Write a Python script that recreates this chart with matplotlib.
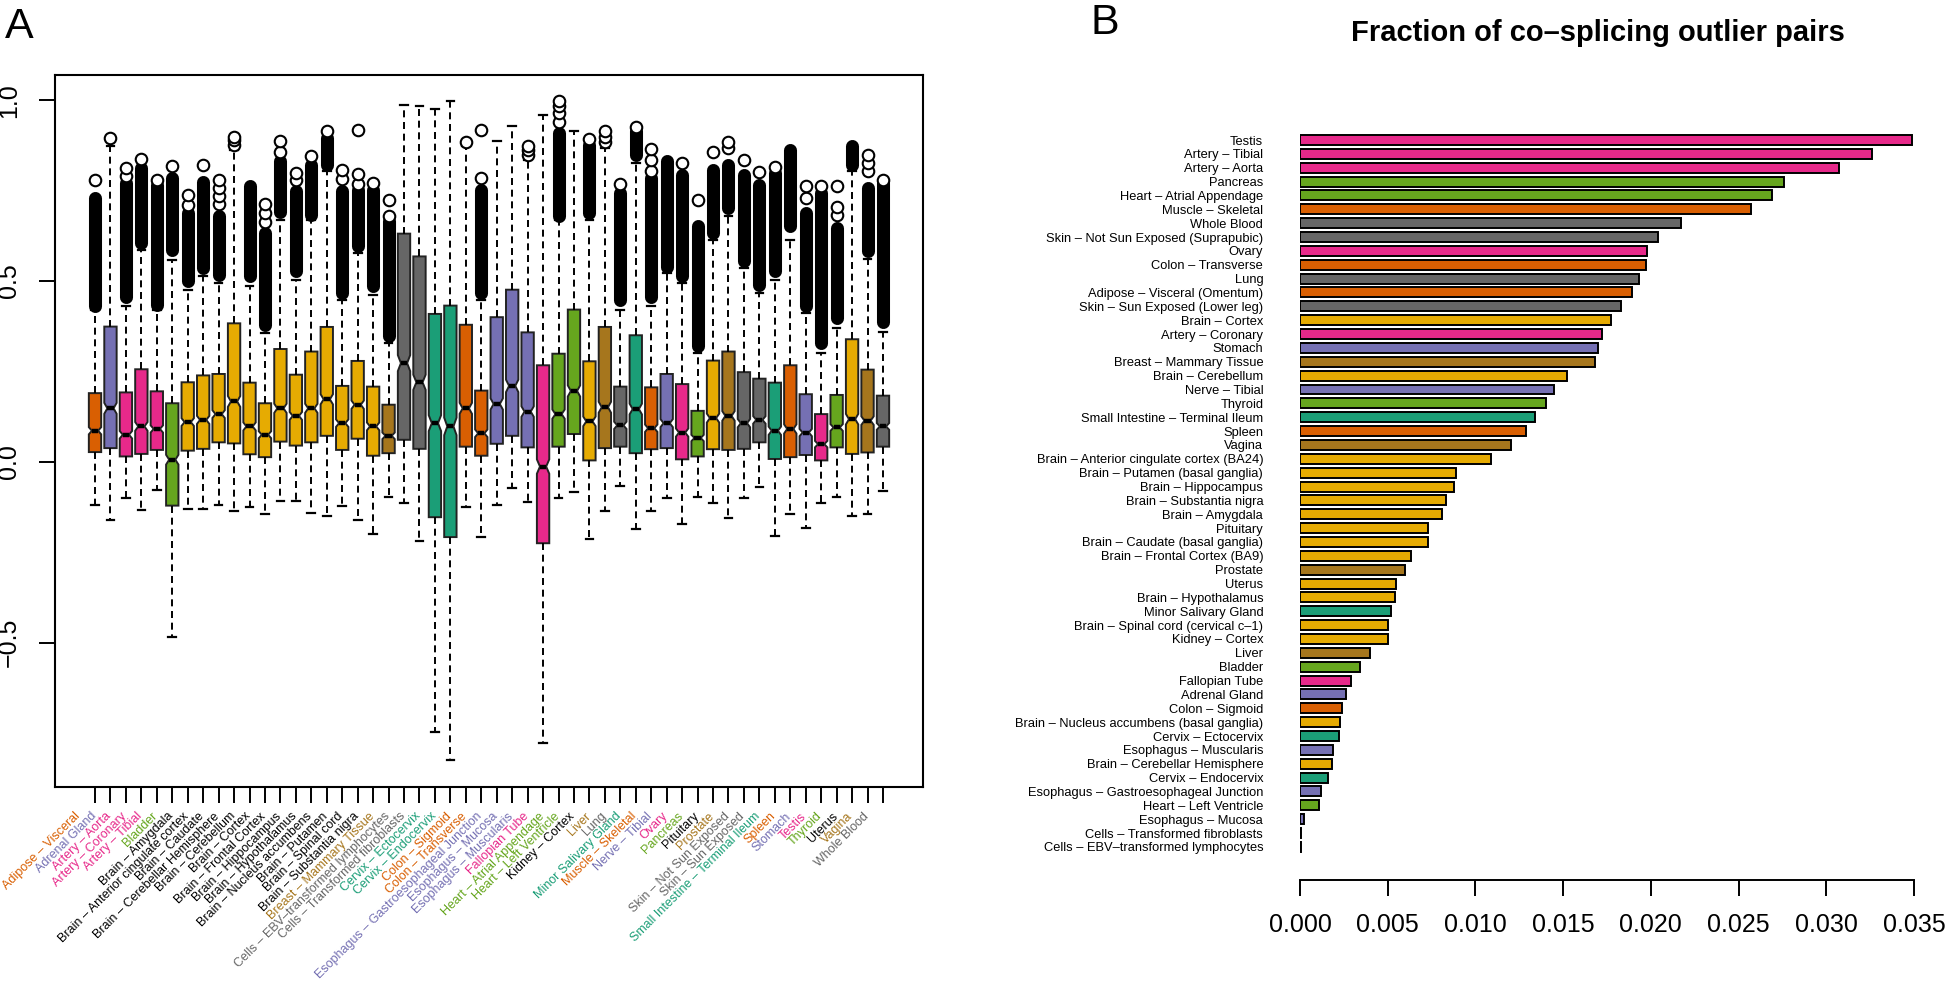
import numpy as np
import matplotlib
matplotlib.use("Agg")
from matplotlib import pyplot as plt

plt.rcParams['font.family'] = ['Liberation Sans', 'DejaVu Sans']

DARK2 = {
    'teal': '#1B9E77', 'orange': '#D95F02', 'purple': '#7570B3', 'pink': '#E7298A',
    'green': '#66A61E', 'yellow': '#E6AB02', 'brown': '#A6761D', 'gray': '#666666',
}

# panel A: one box per tissue (alphabetical)
tissues = [
    "Adipose – Visceral", "Adrenal Gland", "Artery – Aorta", "Artery – Coronary", "Artery – Tibial",
    "Bladder", "Brain – Amygdala", "Brain – Anterior cingulate cortex", "Brain – Caudate",
    "Brain – Cerebellar Hemisphere", "Brain – Cerebellum", "Brain – Cortex", "Brain – Frontal Cortex",
    "Brain – Hippocampus", "Brain – Hypothalamus", "Brain – Nucleus accumbens", "Brain – Putamen",
    "Brain – Spinal cord", "Brain – Substantia nigra", "Breast – Mammary Tissue",
    "Cells – EBV–transformed lymphocytes", "Cells – Transformed fibroblasts", "Cervix – Ectocervix",
    "Cervix – Endocervix", "Colon – Sigmoid", "Colon – Transverse",
    "Esophagus – Gastroesophageal Junction", "Esophagus – Mucosa", "Esophagus – Muscularis",
    "Fallopian Tube", "Heart – Atrial Appendage", "Heart – Left Ventricle", "Kidney – Cortex", "Liver",
    "Lung", "Minor Salivary Gland", "Muscle – Skeletal", "Nerve – Tibial", "Ovary", "Pancreas",
    "Pituitary", "Prostate", "Skin – Not Sun Exposed", "Skin – Sun Exposed",
    "Small Intestine – Terminal Ileum", "Spleen", "Stomach", "Testis", "Thyroid", "Uterus", "Vagina",
    "Whole Blood",
]
tissue_groups = (
    ['orange', 'purple', 'pink', 'pink', 'pink', 'green'] + ['yellow'] * 13 +
    ['brown', 'gray', 'gray', 'teal', 'teal', 'orange', 'orange', 'purple', 'purple', 'purple',
     'pink', 'green', 'green', 'yellow', 'brown', 'gray', 'teal', 'orange', 'purple', 'pink', 'green',
     'yellow', 'brown', 'gray', 'gray', 'teal', 'orange', 'purple', 'pink', 'green', 'yellow', 'brown',
     'gray']
)

q1 = [0.027, 0.038, 0.015, 0.022, 0.033, -0.121, 0.031, 0.036, 0.054, 0.051, 0.021, 0.013, 0.056,
      0.045, 0.054, 0.072, 0.033, 0.064, 0.017, 0.024, 0.061, 0.036, -0.153, -0.208, 0.042, 0.017,
      0.050, 0.072, 0.040, -0.225, 0.042, 0.077, 0.004, 0.038, 0.042, 0.024, 0.035, 0.038, 0.007,
      0.015, 0.035, 0.033, 0.036, 0.054, 0.008, 0.013, 0.019, 0.004, 0.040, 0.022, 0.026, 0.042]
med = [0.086, 0.148, 0.075, 0.098, 0.091, 0.006, 0.110, 0.116, 0.132, 0.167, 0.098, 0.075, 0.148,
       0.127, 0.148, 0.173, 0.107, 0.158, 0.098, 0.072, 0.273, 0.220, 0.107, 0.098, 0.148, 0.079,
       0.160, 0.210, 0.139, -0.013, 0.132, 0.196, 0.112, 0.151, 0.101, 0.146, 0.093, 0.107, 0.081,
       0.066, 0.121, 0.127, 0.107, 0.116, 0.086, 0.091, 0.081, 0.049, 0.095, 0.118, 0.114, 0.098]
q3 = [0.190, 0.374, 0.192, 0.256, 0.195, 0.162, 0.220, 0.239, 0.243, 0.383, 0.219, 0.162, 0.312,
      0.241, 0.305, 0.373, 0.210, 0.279, 0.208, 0.158, 0.631, 0.568, 0.409, 0.432, 0.379, 0.197,
      0.400, 0.476, 0.358, 0.267, 0.299, 0.421, 0.278, 0.373, 0.208, 0.350, 0.206, 0.243, 0.215,
      0.141, 0.280, 0.305, 0.248, 0.230, 0.219, 0.267, 0.187, 0.132, 0.185, 0.339, 0.255, 0.183]
whislo = [-0.119, -0.162, -0.101, -0.133, -0.079, -0.485, -0.131, -0.130, -0.119, -0.135, -0.125,
          -0.144, -0.107, -0.107, -0.142, -0.149, -0.123, -0.161, -0.199, -0.098, -0.114, -0.220,
          -0.747, -0.824, -0.125, -0.208, -0.119, -0.073, -0.110, -0.777, -0.101, -0.084, -0.213,
          -0.137, -0.066, -0.185, -0.137, -0.101, -0.172, -0.096, -0.113, -0.156, -0.101, -0.070,
          -0.205, -0.145, -0.182, -0.114, -0.098, -0.151, -0.145, -0.080]
whishi = [0.420, 0.872, 0.430, 0.586, 0.420, 0.559, 0.476, 0.513, 0.494, 0.863, 0.485, 0.356, 0.669,
          0.503, 0.669, 0.803, 0.448, 0.577, 0.462, 0.328, 0.988, 0.983, 0.976, 0.997, 0.872, 0.448,
          0.888, 0.928, 0.835, 0.960, 0.669, 0.914, 0.669, 0.868, 0.420, 0.826, 0.430, 0.522, 0.494,
          0.300, 0.614, 0.679, 0.536, 0.466, 0.503, 0.614, 0.411, 0.300, 0.370, 0.805, 0.560, 0.360]

# outliers: the packed part of each column (lowest, highest) and the separate circles above it
flier_bands = [
    (0.430, 0.729), None, (0.457, 0.771), (0.605, 0.812), (0.434, 0.766), (0.586, 0.785),
    (0.499, 0.688), (0.536, 0.775), (0.517, 0.679), None, (0.513, 0.762), (0.379, 0.633),
    (0.692, 0.831), (0.527, 0.748), (0.683, 0.822), (0.822, 0.895), (0.467, 0.748), (0.596, 0.752),
    (0.485, 0.752), (0.347, 0.665), None, None, None, None, None, (0.467, 0.752), None, None, None,
    None, (0.679, 0.909), None, (0.688, 0.877), None, (0.448, 0.743), (0.849, 0.914),
    (0.457, 0.785), (0.540, 0.831), (0.513, 0.794), (0.319, 0.651), (0.633, 0.808), (0.702, 0.822),
    (0.554, 0.794), (0.490, 0.766), (0.527, 0.798), (0.651, 0.863), (0.430, 0.688), (0.328, 0.743),
    (0.397, 0.646), (0.822, 0.872), (0.582, 0.757), (0.388, 0.771),
]
flier_points = [
    [0.780], [0.895], [0.791, 0.812], [0.837], [0.780], [0.819], [0.711, 0.739], [0.822],
    [0.714, 0.736, 0.757, 0.780], [0.877, 0.889, 0.898], [], [0.662, 0.688, 0.714], [0.858, 0.888],
    [0.780, 0.798], [0.845], [0.914], [0.782, 0.808], [0.769, 0.797, 0.918], [0.771], [0.679, 0.725],
    [], [], [], [], [0.884], [0.785, 0.918], [], [], [0.849, 0.861, 0.872], [],
    [0.941, 0.964, 0.983, 0.999], [], [0.893], [0.883, 0.898, 0.914], [0.769], [0.926],
    [0.803, 0.834, 0.866], [], [0.826], [0.725], [0.857], [0.868, 0.883], [0.834], [0.801], [0.815],
    [], [0.729, 0.762], [0.763], [0.683, 0.704, 0.762], [], [0.803, 0.826, 0.849], [0.780],
]

# panel B: fraction of co-splicing outlier pairs
bar_labels = [
    "Testis", "Artery – Tibial", "Artery – Aorta", "Pancreas", "Heart – Atrial Appendage",
    "Muscle – Skeletal", "Whole Blood", "Skin – Not Sun Exposed (Suprapubic)", "Ovary",
    "Colon – Transverse", "Lung", "Adipose – Visceral (Omentum)", "Skin – Sun Exposed (Lower leg)",
    "Brain – Cortex", "Artery – Coronary", "Stomach", "Breast – Mammary Tissue", "Brain – Cerebellum",
    "Nerve – Tibial", "Thyroid", "Small Intestine – Terminal Ileum", "Spleen", "Vagina",
    "Brain – Anterior cingulate cortex (BA24)", "Brain – Putamen (basal ganglia)",
    "Brain – Hippocampus", "Brain – Substantia nigra", "Brain – Amygdala", "Pituitary",
    "Brain – Caudate (basal ganglia)", "Brain – Frontal Cortex (BA9)", "Prostate", "Uterus",
    "Brain – Hypothalamus", "Minor Salivary Gland", "Brain – Spinal cord (cervical c–1)",
    "Kidney – Cortex", "Liver", "Bladder", "Fallopian Tube", "Adrenal Gland", "Colon – Sigmoid",
    "Brain – Nucleus accumbens (basal ganglia)", "Cervix – Ectocervix", "Esophagus – Muscularis",
    "Brain – Cerebellar Hemisphere", "Cervix – Endocervix", "Esophagus – Gastroesophageal Junction",
    "Heart – Left Ventricle", "Esophagus – Mucosa", "Cells – Transformed fibroblasts",
    "Cells – EBV–transformed lymphocytes",
]
bar_values = [0.0349, 0.0326, 0.0307, 0.0276, 0.0269, 0.0257, 0.0217, 0.0204, 0.0198, 0.0197,
              0.0193, 0.0189, 0.0183, 0.0177, 0.0172, 0.0170, 0.0168, 0.0152, 0.0145, 0.0140,
              0.0134, 0.0129, 0.0120, 0.0109, 0.0089, 0.0088, 0.0083, 0.0081, 0.0073, 0.0073,
              0.0063, 0.0060, 0.0055, 0.0054, 0.0052, 0.0050, 0.0050, 0.0040, 0.0034, 0.0029,
              0.0026, 0.0024, 0.0023, 0.0022, 0.0019, 0.0018, 0.0016, 0.0012, 0.0011, 0.0002,
              0.00005, 0.00004]
bar_ticks = [0.0, 0.005, 0.010, 0.015, 0.020, 0.025, 0.030, 0.035]

W, H = 1946, 981


def px_box(left, top, right, bottom):
    return [left / W, 1 - bottom / H, (right - left) / W, (bottom - top) / H]


def draw_boxes(ax):
    n = len(tissues)
    pos = np.arange(1, n + 1)
    stats = []
    for i in range(n):
        notch = 0.03 * (q3[i] - q1[i]) + 0.005
        stats.append({'med': med[i], 'q1': q1[i], 'q3': q3[i], 'whislo': whislo[i],
                      'whishi': whishi[i], 'cilo': med[i] - notch, 'cihi': med[i] + notch,
                      'fliers': []})
    res = ax.bxp(stats, positions=pos, widths=0.8, capwidths=0.5, shownotches=True,
                 patch_artist=True, showfliers=False,
                 boxprops=dict(edgecolor='#222222', linewidth=1.4),
                 whiskerprops=dict(color='black', linewidth=1.4, linestyle=(0, (3.6, 2.4))),
                 capprops=dict(color='black', linewidth=1.6),
                 medianprops=dict(color='black', linewidth=3.2, solid_capstyle='butt'))
    for patch, grp in zip(res['boxes'], tissue_groups):
        patch.set_facecolor(DARK2[grp])

    for i in range(n):
        band = flier_bands[i]
        if band is not None:
            ax.plot([pos[i], pos[i]], [band[0], band[1]], color='black', lw=9.4,
                    solid_capstyle='round', zorder=3)
        if flier_points[i]:
            ax.plot([pos[i]] * len(flier_points[i]), flier_points[i], 'o', ms=8.3, mew=1.5,
                    mfc='white', mec='black', zorder=3)

    ax.set_xlim(-1.59, 54.59)
    ax.set_ylim(-0.899, 1.071)
    ax.set_xticks(pos)
    ax.set_xticklabels([])
    ax.set_yticks([-0.5, 0.0, 0.5, 1.0])
    ax.set_yticklabels(['−0.5', '0.0', '0.5', '1.0'], rotation=90, va='center')
    ax.tick_params(axis='both', length=11.5, width=1.4, direction='out', labelsize=18)
    ax.tick_params(axis='y', pad=13)
    for sp in ax.spines.values():
        sp.set_linewidth(1.5)

    for i in range(n):
        c = 'black' if tissue_groups[i] == 'yellow' else DARK2[tissue_groups[i]]
        ax.text(pos[i] - 1.05, -0.975, tissues[i], rotation=45, rotation_mode='anchor',
                ha='right', va='center', fontsize=9.0, color=c, clip_on=False)


def draw_bars(ax):
    k = np.arange(len(bar_labels))
    colors = [DARK2[tissue_groups[tissues.index(lab.split(' (')[0])]] for lab in bar_labels]
    ax.barh(k, bar_values, height=0.72, color=colors, edgecolor='black', linewidth=1.4)
    ax.set_xlim(0, 0.035)
    ax.set_ylim(54.83, -1.443)
    ax.set_yticks(k)
    ax.set_yticklabels(bar_labels, fontsize=9.3)
    ax.tick_params(axis='y', length=0, pad=26.5)
    ax.set_xticks(bar_ticks)
    ax.set_xticklabels(["%.3f" % t for t in bar_ticks])
    ax.tick_params(axis='x', length=11.5, width=1.4, labelsize=18, pad=12)
    for side in ['top', 'right', 'left']:
        ax.spines[side].set_visible(False)
    ax.spines['bottom'].set_position(('data', 53.39))
    ax.spines['bottom'].set_bounds(0, 0.035)
    ax.spines['bottom'].set_linewidth(1.4)


def main():
    fig = plt.figure(figsize=(W / 100, H / 100), dpi=100)
    ax_a = fig.add_axes(px_box(55, 74.5, 923, 787))
    draw_boxes(ax_a)
    ax_b = fig.add_axes(px_box(1300, 120, 1914, 900))
    draw_bars(ax_b)

    fig.text(1598 / W, 1 - 33 / H, "Fraction of co–splicing outlier pairs", ha='center',
             va='center', fontsize=21, fontweight='bold')
    fig.text(5 / W, 1 - 38 / H, "A", ha='left', va='baseline', fontsize=31)
    fig.text(1090 / W, 1 - 34 / H, "B", ha='left', va='baseline', fontsize=31)
    fig.savefig("out.png", dpi=100)


if __name__ == '__main__':
    main()
